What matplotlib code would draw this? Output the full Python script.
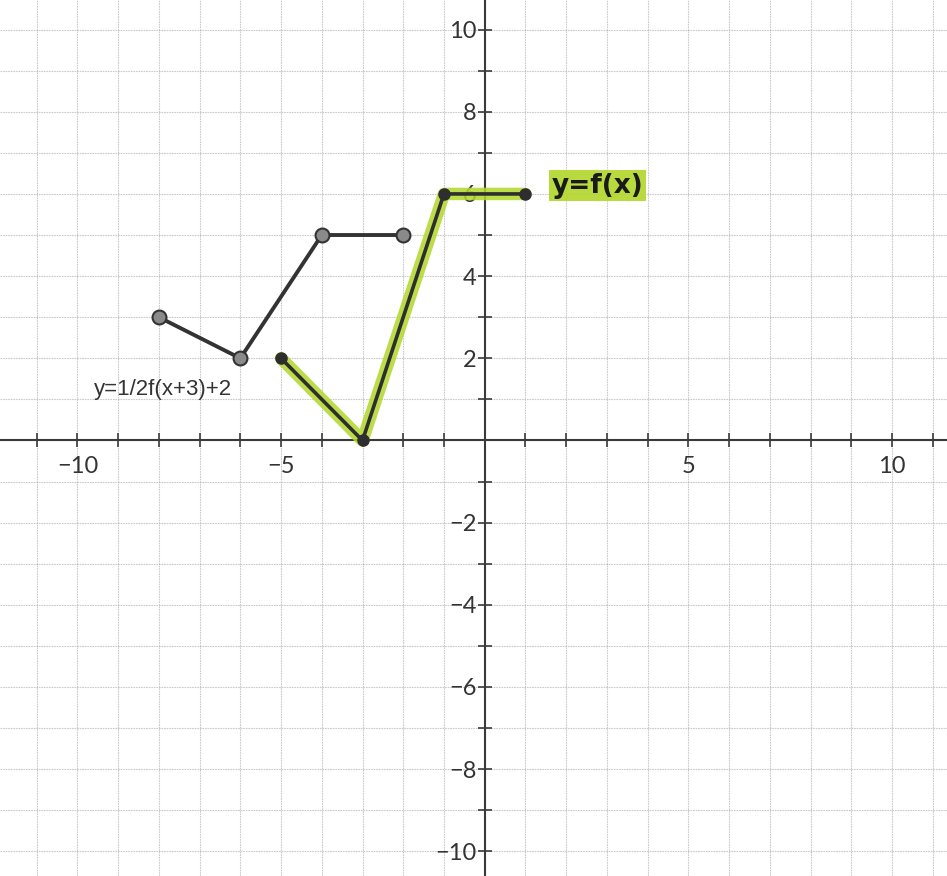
import matplotlib.pyplot as plt
from matplotlib.ticker import MultipleLocator, FuncFormatter

# Parent function f(x), piecewise linear
f_x = [-5, -3, -1, 1]
f_y = [2, 0, 6, 6]

# Transformed function y = 1/2 f(x+3) + 2
g_x = [-8, -6, -4, -2]
g_y = [3, 2, 5, 5]

x_labels = [-10, -5, 5, 10]
y_labels = [-10, -8, -6, -4, -2, 2, 4, 6, 8, 10]

fig = plt.figure(figsize=(9.47, 8.76), dpi=100)
ax = fig.add_axes([0, 0, 1, 1])
ax.set_xlim(-11.9, 11.35)
ax.set_ylim(-10.6, 10.72)

# graph-paper grid at every integer
ax.xaxis.set_major_locator(MultipleLocator(1))
ax.yaxis.set_major_locator(MultipleLocator(1))
ax.grid(True, color='#a8a8a8', linewidth=0.8, linestyle=(0, (1.5, 0.8)), alpha=0.6)
ax.set_axisbelow(True)

# axes through the origin
for side in ['top', 'right']:
    ax.spines[side].set_visible(False)
ax.spines['left'].set_position(('data', 0))
ax.spines['bottom'].set_position(('data', 0))
for side in ['left', 'bottom']:
    ax.spines[side].set_color('#3a3a3a')
    ax.spines[side].set_linewidth(1.5)

ax.tick_params(direction='inout', length=10, width=1.2, color='#3a3a3a',
               labelsize=17, labelcolor='#333333')


def label_x(v, pos):
    n = int(round(v))
    return str(n).replace('-', '\u2212') if n in x_labels else ''


def label_y(v, pos):
    n = int(round(v))
    return str(n).replace('-', '\u2212') if n in y_labels else ''


ax.xaxis.set_major_formatter(FuncFormatter(label_x))
ax.yaxis.set_major_formatter(FuncFormatter(label_y))
ax.tick_params(axis='x', pad=6)
ax.tick_params(axis='y', pad=1)
for lab in ax.get_xticklabels() + ax.get_yticklabels():
    lab.set_fontfamily('Lato')

# f(x): green highlighter under a dark pen line
ax.plot(f_x, f_y, color='#b2d62a', linewidth=9, alpha=0.85, solid_capstyle='round', zorder=3)
ax.plot(f_x, f_y, color='#2e2e2e', linewidth=2.6, zorder=4)
ax.plot(f_x, f_y, 'o', color='#2e2e2e', markersize=8, zorder=5)

# transformed graph
ax.plot(g_x, g_y, color='#333333', linewidth=2.8, zorder=4)
ax.plot(g_x, g_y, 'o', markerfacecolor='#8a8a8a', markeredgecolor='#333333',
        markeredgewidth=1.5, markersize=10, zorder=5)

ax.text(-9.6, 1.23, 'y=1/2f(x+3)+2', fontsize=16, family='Liberation Sans',
        color='#333333', va='center', ha='left', zorder=6)
ax.text(1.65, 6.2, 'y=f(x)', fontsize=19, color='#1a1a1a', va='center', ha='left',
        family='DejaVu Sans', fontweight='bold', zorder=6,
        bbox=dict(boxstyle='square,pad=0.1', facecolor='#b2d62a', edgecolor='none', alpha=0.9))

plt.savefig('out.png', dpi=100)
